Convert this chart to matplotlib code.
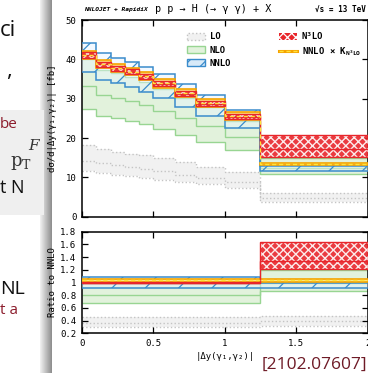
import numpy as np
import matplotlib
matplotlib.use('Agg')
import matplotlib.pyplot as plt
from matplotlib.patches import Patch, Rectangle
from matplotlib.lines import Line2D
from matplotlib.ticker import MultipleLocator, FormatStrFormatter

plt.rcParams['font.family'] = ['DejaVu Sans Mono', 'DejaVu Sans']
plt.rcParams['mathtext.default'] = 'regular'

# bins of |dy(g1,g2)|
edges = [0, 0.1, 0.2, 0.3, 0.4, 0.5, 0.65, 0.8, 1.0, 1.25, 2.0]

lo_lo = [11.5, 11.1, 10.7, 10.3, 9.8, 9.3, 8.7, 8.3, 7.3, 3.7]
lo_c = [14.2, 13.6, 13.1, 12.6, 12.2, 11.5, 10.7, 9.9, 8.9, 4.8]
lo_hi = [18.1, 17.1, 16.5, 16.0, 15.6, 14.8, 13.8, 12.7, 11.3, 5.9]

nlo_lo = [27.3, 25.7, 25.1, 24.4, 23.6, 22.4, 20.8, 19.1, 16.9, 10.8]
nlo_c = [33.1, 30.9, 30.2, 29.4, 28.3, 26.9, 25.0, 23.0, 20.2, 12.5]
nlo_hi = [40.0, 37.4, 36.5, 35.6, 34.2, 32.5, 30.2, 27.8, 24.4, 14.8]

nnlo_lo = [36.7, 34.7, 33.9, 32.9, 31.8, 30.1, 28.0, 25.7, 22.6, 11.7]
nnlo_hi = [44.1, 41.7, 40.4, 39.4, 38.1, 36.3, 33.7, 30.9, 27.1, 12.9]

n3lo_lo = [40.3, 38.1, 37.1, 36.2, 35.1, 33.1, 30.7, 28.1, 24.8, 15.3]
n3lo_c = [41.0, 38.7, 37.7, 36.8, 35.7, 33.8, 31.3, 28.7, 25.4, 17.2]
n3lo_hi = [41.8, 39.4, 38.4, 37.5, 36.4, 34.6, 32.0, 29.4, 26.1, 20.8]

nnlok_lo = [40.0, 37.8, 36.8, 35.9, 34.8, 32.8, 30.4, 27.8, 24.5, 13.2]
nnlok_c = [41.1, 38.8, 37.8, 36.9, 35.8, 33.9, 31.4, 28.8, 25.5, 13.4]
nnlok_hi = [42.2, 39.8, 38.8, 37.9, 36.8, 35.0, 32.4, 29.8, 26.5, 13.6]

# ratio to NNLO, coarse bins
redges = [0, 1.25, 2.0]
r_lo_lo = [0.30, 0.32]
r_lo_c = [0.37, 0.39]
r_lo_hi = [0.45, 0.47]
r_nlo_lo = [0.67, 0.86]
r_nlo_c = [0.81, 1.00]
r_nlo_hi = [0.99, 1.20]
r_nnlo_lo = [0.91, 0.91]
r_nnlo_hi = [1.08, 1.00]
r_n3lo_lo = [0.985, 1.21]
r_n3lo_c = [1.0, 1.34]
r_n3lo_hi = [1.015, 1.64]
r_k_lo = [1.01, 1.01]
r_k_c = [1.035, 1.04]
r_k_hi = [1.06, 1.05]

LO_FC, LO_EC = '#f1f1f1', '#c4c4c4'
NLO_FC, NLO_EC = '#e2f2dc', '#98d592'
NNLO_EC = '#3a8ccc'
RED = '#e8262b'
ORANGE, YELLOW = '#f5a300', '#ffe23a'


def draw(ax, e, lo_l, lo_m, lo_h, nlo_l, nlo_m, nlo_h, nn_l, nn_h,
         k_l, k_m, k_h, n3_l, n3_m, n3_h):
    e = np.asarray(e)
    w = np.diff(e)
    # LO
    ax.stairs(lo_h, e, baseline=lo_l, fill=True, fc=LO_FC, ec='none', zorder=1)
    for v in (lo_l, lo_m, lo_h):
        ax.stairs(v, e, baseline=None, color=LO_EC, ls=':', lw=1.0, zorder=1.1)
    # NLO
    ax.stairs(nlo_h, e, baseline=nlo_l, fill=True, fc=NLO_FC, ec='none', zorder=2)
    for v in (nlo_l, nlo_m, nlo_h):
        ax.stairs(v, e, baseline=None, color=NLO_EC, lw=1.0, zorder=2.1)
    # NNLO
    plt.rcParams['hatch.linewidth'] = 0.9
    ax.stairs(nn_h, e, baseline=nn_l, fill=True, fc=(0.9, 0.95, 1.0, 0.45),
              ec=NNLO_EC, lw=0, hatch='/', zorder=3)
    for v in (nn_l, nn_h):
        ax.stairs(v, e, baseline=None, color=NNLO_EC, lw=1.1, zorder=3.1)
    # NNLO x K
    ax.bar(e[:-1], np.subtract(k_h, k_l), width=w, bottom=k_l, align='edge',
           fc='#ffe680', ec=ORANGE, lw=1.2, zorder=4)
    # N3LO
    plt.rcParams['hatch.linewidth'] = 1.0
    ax.bar(e[:-1], np.subtract(n3_h, n3_l), width=w, bottom=n3_l, align='edge',
           fc=RED, ec='white', lw=0, hatch='xxxx', alpha=0.9, zorder=5)
    ax.bar(e[:-1], np.subtract(n3_h, n3_l), width=w, bottom=n3_l, align='edge',
           fill=False, ec=RED, lw=1.0, zorder=5.1)
    ax.stairs(n3_m, e, baseline=None, color=RED, lw=1.0, zorder=5.2)
    ax.stairs(k_m, e, baseline=None, color=YELLOW, lw=1.0, ls=(0, (3, 2)), zorder=5.3)


fig = plt.figure(figsize=(3.68, 3.73), dpi=100)

# slide remains on the left
fig.patches.append(Rectangle((0, 1 - 215 / 373), 44 / 368, 105 / 373,
                             transform=fig.transFigure, fc='#efefef', ec='none'))
gax = fig.add_axes([40 / 368, 0, 12 / 368, 1])
gax.imshow(np.linspace(0.95, 0.55, 64)[None, :], cmap='gray', vmin=0, vmax=1,
           aspect='auto', extent=(0, 1, 0, 1))
gax.axis('off')
sfont = ['Open Sans', 'DejaVu Sans']
fig.text(0, 1 - 36 / 373, 'ci', fontsize=16, family=sfont, color='#111111')
fig.text(6 / 368, 1 - 76 / 373, ',', fontsize=16, family=sfont, color='#111111')
fig.text(0, 1 - 128 / 373, 'be', fontsize=11, family=sfont, color='#8c1c2c')
fig.text(28 / 368, 1 - 150 / 373, 'F', fontsize=11, family='DejaVu Serif',
         style='italic', color='#333333')
fig.text(10 / 368, 1 - 166 / 373, r'$p_T$', fontsize=13, family='DejaVu Serif',
         color='#333333')
fig.text(0, 1 - 193 / 373, 't N', fontsize=13, family=sfont, color='#111111')
fig.text(0, 1 - 294 / 373, 'NL', fontsize=14, family=sfont, color='#111111')
fig.text(0, 1 - 314 / 373, 't a', fontsize=11, family=sfont, color='#8c1c2c')

ax1 = fig.add_axes([82 / 368, 1 - 216.7 / 373, 285.5 / 368, 196.7 / 373])
ax2 = fig.add_axes([82 / 368, 1 - 333.3 / 373, 285.5 / 368, 101.6 / 373])

draw(ax1, edges, lo_lo, lo_c, lo_hi, nlo_lo, nlo_c, nlo_hi, nnlo_lo, nnlo_hi,
     nnlok_lo, nnlok_c, nnlok_hi, n3lo_lo, n3lo_c, n3lo_hi)
draw(ax2, redges, r_lo_lo, r_lo_c, r_lo_hi, r_nlo_lo, r_nlo_c, r_nlo_hi,
     r_nnlo_lo, r_nnlo_hi, r_k_lo, r_k_c, r_k_hi, r_n3lo_lo, r_n3lo_c, r_n3lo_hi)

for ax in (ax1, ax2):
    ax.set_xlim(0, 2)
    ax.xaxis.set_major_locator(MultipleLocator(0.5))
    ax.xaxis.set_major_formatter(FormatStrFormatter('%g'))
    ax.tick_params(direction='in', top=True, right=True, length=4, width=0.9,
                   labelsize=6.5, pad=4)
    for s in ax.spines.values():
        s.set_linewidth(1.1)

ax1.set_ylim(0, 50)
ax1.yaxis.set_major_locator(MultipleLocator(10))
ax1.tick_params(labelbottom=False)
ax1.set_ylabel('dσ/d|Δy(γ₁,γ₂)| [fb]', fontsize=6.5)
ax1.yaxis.set_label_coords(-0.088, 0.5)

ax2.set_ylim(0.2, 1.8)
ax2.yaxis.set_major_locator(MultipleLocator(0.2))
ax2.yaxis.set_major_formatter(FormatStrFormatter('%g'))
ax2.set_ylabel('Ratio to NNLO', fontsize=6.5)
ax2.yaxis.set_label_coords(-0.088, 0.5)
ax2.set_xlabel('|Δy(γ₁,γ₂)|', fontsize=6.5, labelpad=3)

plt.rcParams['hatch.linewidth'] = 0.9
handles = [
    Patch(fc=LO_FC, ec=LO_EC, ls=':', lw=1.0),
    Patch(fc=NLO_FC, ec=NLO_EC, lw=1.0),
    Patch(fc='#d8eaf8', ec=NNLO_EC, hatch='//', lw=1.0),
    Patch(fc=RED, ec='white', hatch='xxxx', lw=0),
    (Line2D([], [], color=ORANGE, lw=2.2), Line2D([], [], color=YELLOW, lw=1.0, ls=(0, (3, 2)))),
]
labels = ['LO', 'NLO', 'NNLO', 'N³LO', r'NNLO × K$_{N^3LO}$']
ax1.legend(handles, labels, ncol=2, loc='upper right', bbox_to_anchor=(0.99, 0.955),
           frameon=False, prop={'family': 'DejaVu Sans Mono', 'weight': 'bold', 'size': 6.5},
           handlelength=2.0, handleheight=0.8, handletextpad=0.5, columnspacing=5.3,
           labelspacing=0.45, borderaxespad=0)

fig.text(84 / 368, 1 - 9 / 373, 'NNLOJET + RapidiX', fontsize=4.5, weight='bold',
         style='italic', va='center')
fig.text(155 / 368, 1 - 9 / 373, 'p p → H (→ γ γ) + X', fontsize=7.3, va='center')
fig.text(366 / 368, 1 - 9 / 373, '√s = 13 TeV', fontsize=5.5, weight='bold',
         va='center', ha='right')

fig.text(367 / 368, 1 - 369 / 373, '[2102.07607]', fontsize=12.5, family=sfont,
         color='#6e1a26', ha='right', va='baseline')

fig.savefig('out.png', dpi=100)
